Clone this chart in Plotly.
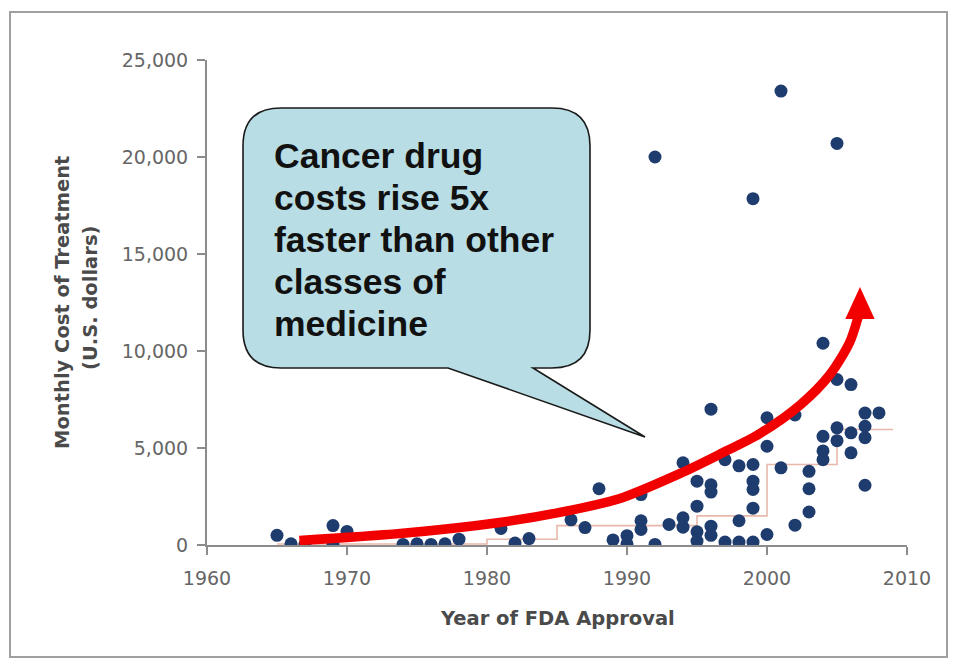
import plotly.graph_objects as go

# FDA approval year and monthly cost (USD) of each cancer drug
years = [1965, 1966, 1967, 1969, 1969, 1970,
         1974, 1975, 1976, 1977, 1978,
         1981, 1982, 1983,
         1986, 1987, 1988, 1989,
         1990, 1990,
         1991, 1991, 1991,
         1992, 1992,
         1993,
         1994, 1994, 1994,
         1995, 1995, 1995, 1995,
         1996, 1996, 1996, 1996, 1996,
         1997, 1997,
         1998, 1998, 1998,
         1999, 1999, 1999, 1999, 1999, 1999,
         2000, 2000, 2000,
         2001, 2001,
         2002, 2002,
         2003, 2003, 2003,
         2004, 2004, 2004, 2004,
         2005, 2005, 2005, 2005,
         2006, 2006, 2006,
         2007, 2007, 2007, 2007,
         2008]
costs = [500, 60, 30, 1000, 30, 700,
         30, 60, 30, 60, 300,
         850, 100, 330,
         1300, 900, 2900, 260,
         480, 60,
         2600, 1250, 800,
         20000, 30,
         1060,
         4240, 1400, 920,
         3290, 2000, 680, 200,
         7000, 3100, 2730, 970, 500,
         4400, 150,
         4080, 1250, 150,
         17850, 4150, 3290, 2860, 1900, 150,
         6560, 5090, 540,
         23400, 3980,
         6700, 1020,
         3800, 2900, 1700,
         10400, 5600, 4850, 4400,
         20700, 8530, 6040, 5380,
         8270, 5780, 4750,
         6800, 6120, 5530, 3080,
         6810]

# Median monthly cost by period (step line)
median_years = [1965, 1980, 1985, 1995, 2000, 2005, 2009]
median_costs = [50, 300, 1000, 1500, 4150, 5950, 5950]

# Rising-cost trend arrow (year, cost)
trend_years = [1966.6, 1973.8, 1980.9, 1985.2, 1989.5, 1993.8, 1996.6,
               1999.5, 2002.4, 2004.5, 2005.9, 2006.5]
trend_costs = [230, 590, 1160, 1680, 2400, 3690, 4670,
               5750, 7240, 8790, 10440, 11730]
arrow_tip = (2006.64, 13300)
arrow_half_width = 1.05
arrow_base_cost = 11650

x_ticks = [1960, 1970, 1980, 1990, 2000, 2010]
y_ticks = [0, 5000, 10000, 15000, 20000, 25000]

callout_lines = ["Cancer drug", "costs rise 5x", "faster than other",
                 "classes of", "medicine"]

W, H = 957, 665
ML, MR, MT, MB = 207, 50, 60, 120
PW, PH = W - ML - MR, H - MT - MB


def pxx(x):
    return (x - ML) / PW


def pxy(y):
    return (H - MB - y) / PH


fig = go.Figure()

fig.add_trace(go.Scatter(
    x=median_years, y=median_costs, mode="lines",
    line=dict(color="#e7b8ab", width=1.6, shape="hv"),
    hoverinfo="skip", showlegend=False))

fig.add_trace(go.Scatter(
    x=years, y=costs, mode="markers",
    marker=dict(size=13, color="#1f3c6e", line=dict(width=0)),
    showlegend=False))

fig.add_trace(go.Scatter(
    x=trend_years, y=trend_costs, mode="lines",
    line=dict(color="#f20000", width=9.5, shape="spline", smoothing=0.8),
    hoverinfo="skip", showlegend=False))

shapes = []
# arrowhead
tx, ty = arrow_tip
shapes.append(dict(
    type="path", xref="x", yref="y", layer="above",
    path=(f"M {tx - arrow_half_width},{arrow_base_cost} "
          f"L {tx + arrow_half_width},{arrow_base_cost} L {tx},{ty} Z"),
    fillcolor="#f20000", line=dict(width=0)))

# speech bubble
bl, bt, br, bb, rad = 243, 108, 590, 368, 38
tail_l, tail_r, tip_x, tip_y = 448, 533, 645, 437
pts = [
    ("M", [(bl + rad, bt)]),
    ("L", [(br - rad, bt)]),
    ("Q", [(br, bt), (br, bt + rad)]),
    ("L", [(br, bb - rad)]),
    ("Q", [(br, bb), (br - rad, bb)]),
    ("L", [(tail_r, bb)]),
    ("L", [(tip_x, tip_y)]),
    ("L", [(tail_l, bb)]),
    ("L", [(bl + rad, bb)]),
    ("Q", [(bl, bb), (bl, bb - rad)]),
    ("L", [(bl, bt + rad)]),
    ("Q", [(bl, bt), (bl + rad, bt)]),
]
path = " ".join(
    cmd + " " + " ".join(f"{pxx(a):.5f},{pxy(b):.5f}" for a, b in p)
    for cmd, p in pts) + " Z"
shapes.append(dict(type="path", xref="paper", yref="paper", layer="above",
                   path=path, fillcolor="#b8dde4",
                   line=dict(color="#1a1a1a", width=1.6)))

# outer frame
shapes.append(dict(type="rect", xref="paper", yref="paper", layer="below",
                   x0=pxx(10), x1=pxx(947), y0=pxy(12), y1=pxy(657),
                   line=dict(color="#a0a0a0", width=2)))

annotations = []
for i, line in enumerate(callout_lines):
    annotations.append(dict(
        text=f"<b>{line}</b>", xref="paper", yref="paper",
        x=pxx(272), y=pxy(156 + 42 * i), xanchor="left", yanchor="middle",
        showarrow=False,
        font=dict(family="Liberation Sans, Arial", size=35.5, color="#111111")))

annotations.append(dict(
    text="<b>Monthly Cost of Treatment</b>", xref="paper", yref="paper",
    x=pxx(62), y=pxy(303), xanchor="center", yanchor="middle",
    textangle=-90, showarrow=False,
    font=dict(family="DejaVu Sans", size=19.5, color="#4a4a4a")))
annotations.append(dict(
    text="<b>(U.S. dollars)</b>", xref="paper", yref="paper",
    x=pxx(90), y=pxy(298), xanchor="center", yanchor="middle",
    textangle=-90, showarrow=False,
    font=dict(family="DejaVu Sans", size=19.5, color="#4a4a4a")))
annotations.append(dict(
    text="<b>Year of FDA Approval</b>", xref="paper", yref="paper",
    x=pxx(557), y=pxy(618), xanchor="center", yanchor="middle",
    showarrow=False,
    font=dict(family="DejaVu Sans", size=19.5, color="#4a4a4a")))

axis_common = dict(
    showgrid=False, zeroline=False, showline=True,
    linecolor="#8c8c8c", linewidth=2,
    ticks="outside", ticklen=8, tickwidth=2, tickcolor="#8c8c8c",
    tickfont=dict(family="DejaVu Sans", size=19, color="#666666"),
)

fig.update_layout(
    width=W, height=H,
    margin=dict(l=ML, r=MR, t=MT, b=MB, pad=0),
    paper_bgcolor="white", plot_bgcolor="white",
    showlegend=False,
    xaxis=dict(range=[1960, 2010], tickvals=x_ticks,
               ticktext=[str(v) for v in x_ticks], ticklabelstandoff=7,
               **axis_common),
    yaxis=dict(range=[0, 25000], tickvals=y_ticks,
               ticktext=[f"{v:,}" for v in y_ticks], ticklabelstandoff=5,
               **axis_common),
    shapes=shapes,
    annotations=annotations,
)

fig.write_html("out.html")
